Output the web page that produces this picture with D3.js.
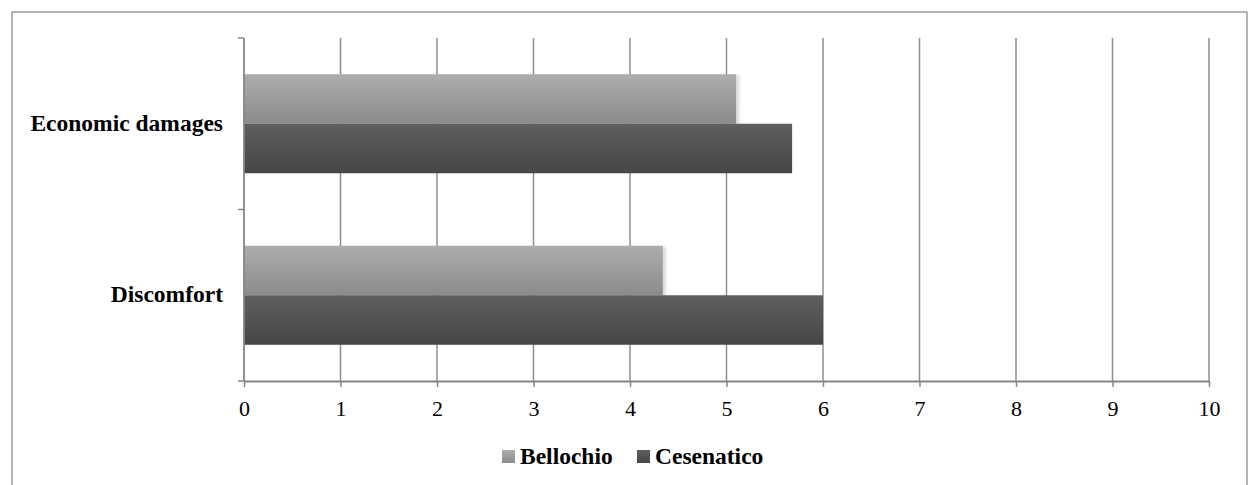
<!DOCTYPE html>
<html>
<head>
<meta charset="utf-8">
<script src="https://cdn.jsdelivr.net/npm/d3@7"></script>
<style>
  body { margin: 0; background: #fff; }
</style>
</head>
<body>
<svg width="1252" height="485"></svg>
<script>
// data
const categories = ["Economic damages", "Discomfort"];
const series = ["Bellochio", "Cesenatico"];
const bellochio = [5.1, 4.34];
const cesenatico = [5.68, 6.0];
const ticks = [0, 1, 2, 3, 4, 5, 6, 7, 8, 9, 10];

const values = [bellochio, cesenatico];
const serif = '"Liberation Serif"';

const svg = d3.select("svg");

// gradients for the two series
const defs = svg.append("defs");
const grads = [
    {id: "g0", top: "#adadad", bottom: "#8b8b8b"},
    {id: "g1", top: "#5f5f5f", bottom: "#464646"}
];
grads.forEach(g => {
    const lg = defs.append("linearGradient")
        .attr("id", g.id)
        .attr("x1", 0).attr("y1", 0).attr("x2", 0).attr("y2", 1);
    lg.append("stop").attr("offset", "0%").attr("stop-color", g.top);
    lg.append("stop").attr("offset", "100%").attr("stop-color", g.bottom);
});
const shadow = defs.append("filter").attr("id", "shadow")
    .attr("x", "-5%").attr("y", "-10%").attr("width", "115%").attr("height", "130%");
shadow.append("feDropShadow")
    .attr("dx", 3).attr("dy", 1).attr("stdDeviation", 1.5)
    .attr("flood-color", "#000").attr("flood-opacity", 0.15);

// outer frame
svg.append("rect")
    .attr("x", 12).attr("y", 12)
    .attr("width", 1235).attr("height", 500)
    .attr("fill", "none")
    .attr("stroke", "#8c8c8c")
    .attr("stroke-width", 1.3);

const x = d3.scaleLinear().domain([0, 10]).range([244, 1209]);
const y = d3.scaleBand().domain(categories).range([38, 381]);
const ySub = d3.scaleBand().domain(series)
    .range([0, y.bandwidth()])
    .paddingOuter(0.732);

// vertical gridlines
svg.append("g").selectAll("line")
    .data(ticks.slice(1))
    .enter()
    .append("line")
    .attr("x1", d => x(d)).attr("x2", d => x(d))
    .attr("y1", 38).attr("y2", 381)
    .attr("stroke", "#8f8f8f")
    .attr("stroke-width", 1.5);

// bars
series.forEach((s, i) => {
    svg.append("g")
        .selectAll("rect")
        .data(categories)
        .enter()
        .append("rect")
        .attr("x", x(0))
        .attr("y", c => y(c) + ySub(s))
        .attr("width", (c, j) => x(values[i][j]) - x(0))
        .attr("height", ySub.bandwidth())
        .attr("fill", `url(#g${i})`)
        .attr("filter", i === 0 ? "url(#shadow)" : null);
});

// bottom axis
const xAxis = svg.append("g")
    .attr("transform", "translate(0,381)")
    .call(d3.axisBottom(x).tickValues(ticks).tickSize(6).tickSizeOuter(0).tickPadding(0));
xAxis.attr("font-family", null);
xAxis.select(".domain").attr("stroke", "#868686").attr("stroke-width", 1.8);
xAxis.selectAll(".tick line").attr("stroke", "#868686").attr("stroke-width", 1.5);
xAxis.selectAll(".tick text")
    .attr("y", 35)
    .attr("dy", null)
    .style("font-family", serif)
    .style("font-size", "22px")
    .attr("fill", "#000");

// left axis
const yBoundaries = [38, y(categories[1]), 381];
svg.append("line")
    .attr("x1", x(0)).attr("x2", x(0))
    .attr("y1", 38).attr("y2", 381)
    .attr("stroke", "#868686").attr("stroke-width", 1.8);
svg.append("g").selectAll("line")
    .data(yBoundaries)
    .enter()
    .append("line")
    .attr("x1", x(0) - 6).attr("x2", x(0))
    .attr("y1", d => d).attr("y2", d => d)
    .attr("stroke", "#868686").attr("stroke-width", 1.5);

// category labels
svg.append("g").selectAll("text")
    .data(categories)
    .enter()
    .append("text")
    .attr("x", 223)
    .attr("y", c => y(c) + y.bandwidth() / 2 + 7)
    .attr("text-anchor", "end")
    .style("font-family", serif)
    .style("font-size", "23.5px")
    .style("font-weight", "bold")
    .attr("fill", "#000")
    .text(c => c);

// legend
const legendItems = [
    {name: series[0], x: 502},
    {name: series[1], x: 637}
];
const legend = svg.append("g");
legendItems.forEach((d, i) => {
    legend.append("rect")
        .attr("x", d.x).attr("y", 450)
        .attr("width", 13).attr("height", 13)
        .attr("fill", `url(#g${i})`);
    legend.append("text")
        .attr("x", d.x + 18).attr("y", 464)
        .style("font-family", serif)
        .style("font-size", "23.5px")
        .style("font-weight", "bold")
        .attr("fill", "#000")
        .text(d.name);
});
</script>
</body>
</html>
